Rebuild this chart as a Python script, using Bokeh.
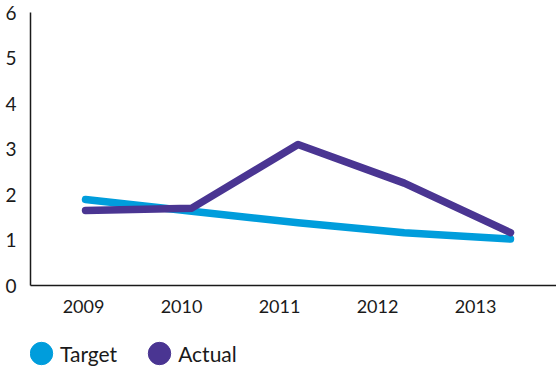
from bokeh.plotting import figure
from bokeh.models import Range1d, LinearAxis, FixedTicker, Legend, LegendItem
from bokeh.layouts import column
from bokeh.embed import file_html
from bokeh.resources import INLINE

years = ["2009", "2010", "2011", "2012", "2013"]
target = [1.89, 1.63, 1.38, 1.16, 1.02]
actual = [1.65, 1.70, 3.10, 2.25, 1.16]
y_ticks = [0, 1, 2, 3, 4, 5, 6]

TARGET_C = "#009ddc"
ACTUAL_C = "#4a3592"
FONT = "Lato"
TEXT_C = "#1a1a1a"

idx = list(range(len(years)))

p = figure(width=556, height=326, output_backend="svg", toolbar_location=None,
           x_range=Range1d(-0.518, 4.433), y_range=Range1d(0, 6),
           x_axis_location=None, y_axis_location=None,
           min_border_left=30, min_border_right=0, min_border_top=12, min_border_bottom=41)
p.outline_line_color = None
p.grid.visible = False

# label axis (separate range for category label positions)
p.extra_x_ranges = {"lab": Range1d(-0.541, 4.826)}
xax = LinearAxis(x_range_name="lab", ticker=FixedTicker(ticks=idx),
                 major_label_overrides={i: y for i, y in enumerate(years)})
xax.axis_line_color = TEXT_C
xax.axis_line_width = 1.5
xax.major_tick_line_color = None
xax.minor_tick_line_color = None
xax.major_label_text_font = FONT
xax.major_label_text_font_size = "18px"
xax.major_label_text_color = TEXT_C
xax.major_label_standoff = 8
p.add_layout(xax, "below")

yax = LinearAxis(ticker=FixedTicker(ticks=y_ticks))
yax.axis_line_color = TEXT_C
yax.axis_line_width = 1.5
yax.major_tick_line_color = None
yax.minor_tick_line_color = None
yax.major_label_text_font = FONT
yax.major_label_text_font_size = "19px"
yax.major_label_text_color = TEXT_C
yax.major_label_standoff = 8
p.add_layout(yax, "left")

p.line(idx, target, line_color=TARGET_C, line_width=7.5, line_cap="round", line_join="round")
p.line(idx, actual, line_color=ACTUAL_C, line_width=7.5, line_cap="round", line_join="round")

# legend figure (swatch renderers sit outside the visible range)
lf = figure(width=556, height=48, output_backend="svg", toolbar_location=None,
            x_range=Range1d(0, 1), y_range=Range1d(0, 1),
            x_axis_location=None, y_axis_location=None,
            min_border_left=0, min_border_right=0, min_border_top=0, min_border_bottom=0)
lf.outline_line_color = None
lf.grid.visible = False
rt = lf.ellipse(x=[-10], y=[-10], width=22, height=22, width_units="screen", height_units="screen",
                fill_color=TARGET_C, line_color=TARGET_C)
ra = lf.ellipse(x=[-10], y=[-10], width=22, height=22, width_units="screen", height_units="screen",
                fill_color=ACTUAL_C, line_color=ACTUAL_C)

legend = Legend(items=[LegendItem(label="Target", renderers=[rt]),
                       LegendItem(label="Actual", renderers=[ra])],
                orientation="horizontal", location=(-3, 7))
legend.border_line_color = None
legend.background_fill_alpha = 0
legend.padding = 0
legend.margin = 0
legend.spacing = 28
legend.glyph_width = 28
legend.glyph_height = 28
legend.label_height = 28
legend.label_standoff = 5
legend.label_text_font = FONT
legend.label_text_font_size = "21px"
legend.label_text_color = TEXT_C
lf.add_layout(legend, "center")

layout = column(p, lf, spacing=0)
open("out.html", "w").write(file_html(layout, INLINE))
